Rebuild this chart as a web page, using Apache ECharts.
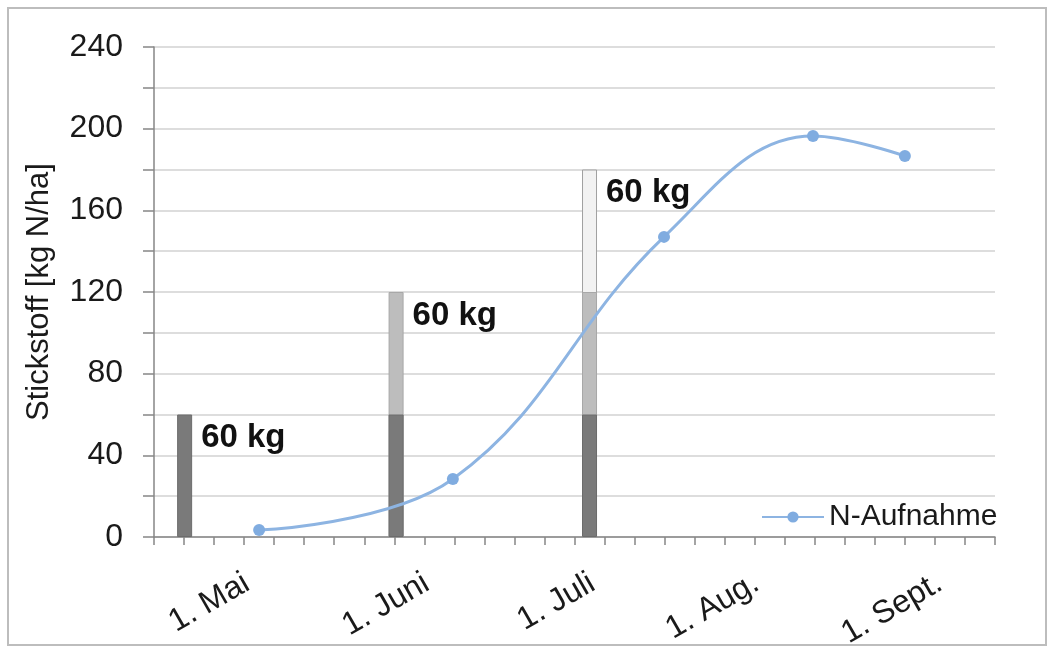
<!DOCTYPE html>
<html>
<head>
<meta charset="utf-8">
<script src="https://cdn.jsdelivr.net/npm/echarts@6/dist/echarts.min.js"></script>
<style>
  html, body { margin: 0; padding: 0; background: #ffffff; }
  #chart { width: 1052px; height: 653px; }
</style>
</head>
<body>
<div id="chart"></div>
<script>
// ---- data ----
const monthLabels = ['1. Mai', '1. Juni', '1. Juli', '1. Aug.', '1. Sept.'];
const monthPos = [3.1, 9.08, 14.6, 20.06, 26.16];
const xMax = 28;

const fertDates = [1.02, 8.06, 14.5];
const fertDoses = [60, 60, 60];

const uptakeX = [3.5, 9.95, 16.98, 21.94, 25.0];
const uptakeY = [3.4, 28.4, 147, 196.4, 186.6];

const yTickStep = 20;
const yLabelStep = 40;
const yMax = 240;

// ---- build ----
const layerColors = ['#7a7a7a', '#bdbdbd', '#f2f2f2'];
const layerBorders = ['#6c6c6c', '#a8a8a8', '#a0a0a0'];

function cumulative(k) {
  let s = 0;
  for (let i = 0; i <= k; i++) s += fertDoses[i];
  return s;
}

// tallest layer first so lower layers are drawn over it
const barSeries = [];
for (let k = fertDoses.length - 1; k >= 0; k--) {
  barSeries.push({
    type: 'bar',
    name: 'Gabe ' + (k + 1),
    barWidth: 15,
    barGap: '-100%',
    itemStyle: { color: layerColors[k], borderColor: layerBorders[k], borderWidth: 1 },
    data: fertDates.map((d, j) => {
      const item = { value: [d, j >= k ? cumulative(k) : '-'] };
      if (j === k) {
        item.label = {
          show: true,
          position: ['100%', 0],
          offset: [9, 7],
          formatter: () => fertDoses[k] + ' kg',
          fontFamily: 'Liberation Sans, Arial, sans-serif',
          fontWeight: 'bold',
          fontSize: 33,
          color: '#111111'
        };
      }
      return item;
    }),
    z: 2
  });
}

const lineSeries = {
  type: 'line',
  name: 'N-Aufnahme',
  smooth: 0.4,
  symbol: 'circle',
  symbolSize: 12,
  lineStyle: { color: '#8db4e2', width: 3 },
  itemStyle: { color: '#80ace0' },
  data: uptakeX.map((x, i) => [x, uptakeY[i]]),
  z: 5
};

const chart = echarts.init(document.getElementById('chart'));
chart.setOption({
  animation: false,
  backgroundColor: '#ffffff',
  graphic: [{
    type: 'rect',
    shape: { x: 8, y: 8, width: 1038, height: 637 },
    style: { fill: 'none', stroke: '#bdbdbd', lineWidth: 2 },
    silent: true
  }],
  grid: { left: 154, right: 57, top: 47, bottom: 116, containLabel: false },
  legend: {
    data: ['N-Aufnahme'],
    left: 756,
    top: 497,
    itemWidth: 62,
    itemHeight: 14,
    textStyle: { fontFamily: 'Liberation Sans, Arial, sans-serif', fontSize: 30, color: '#1a1a1a' }
  },
  xAxis: {
    type: 'value',
    min: 0,
    max: xMax,
    interval: 1,
    axisLine: { lineStyle: { color: '#868686', width: 1.5 } },
    axisTick: { show: true, length: 8, lineStyle: { color: '#868686', width: 1.5 } },
    splitLine: { show: false },
    axisLabel: {
      customValues: monthPos,
      formatter: (v) => {
        const i = monthPos.findIndex(p => Math.abs(p - v) < 1e-6);
        return i >= 0 ? monthLabels[i] : '';
      },
      rotate: 30,
      margin: 44,
      fontFamily: 'Liberation Sans, Arial, sans-serif',
      fontSize: 32,
      color: '#1a1a1a'
    }
  },
  yAxis: {
    type: 'value',
    min: 0,
    max: yMax,
    interval: yTickStep,
    name: 'Stickstoff [kg N/ha]',
    nameLocation: 'middle',
    nameGap: 99,
    nameTextStyle: { fontFamily: 'Liberation Sans, Arial, sans-serif', fontSize: 31, color: '#1a1a1a' },
    axisLine: { show: true, lineStyle: { color: '#868686', width: 1.5 } },
    axisTick: { show: true, length: 11, lineStyle: { color: '#868686', width: 1.5 } },
    splitLine: { show: true, lineStyle: { color: '#d2d2d2', width: 1.5 } },
    axisLabel: {
      formatter: (v) => (v % yLabelStep === 0 ? String(v) : ''),
      margin: 31,
      fontFamily: 'Liberation Sans, Arial, sans-serif',
      fontSize: 32,
      color: '#1a1a1a'
    }
  },
  series: [...barSeries, lineSeries]
});
</script>
</body>
</html>
